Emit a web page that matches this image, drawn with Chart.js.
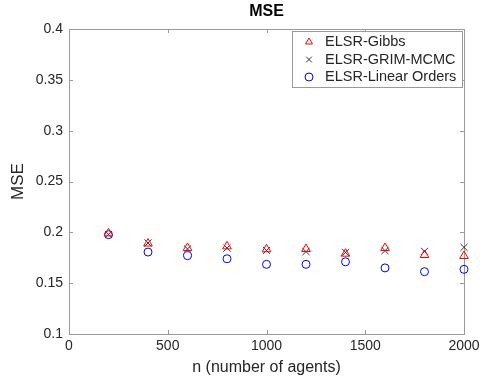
<!DOCTYPE html>
<html>
<head>
<meta charset="utf-8">
<script src="https://cdn.jsdelivr.net/npm/chart.js@4"></script>
<style>
  html, body { margin: 0; padding: 0; background: #fff; }
  #wrap { width: 481px; height: 377px; }
</style>
</head>
<body>
<div id="wrap"><canvas id="mseChart" width="481" height="377"></canvas></div>
<script>
// ================= DATA =================
const agents = [200, 400, 600, 800, 1000, 1200, 1400, 1600, 1800, 2000];
const gibbs = [0.199, 0.189, 0.1846, 0.1862, 0.1833, 0.1836, 0.179, 0.1846, 0.1777, 0.1767];
const grim = [0.198, 0.1895, 0.1836, 0.1845, 0.1822, 0.181, 0.1803, 0.182, 0.1813, 0.1852];
const linearOrders = [0.1977, 0.1806, 0.177, 0.174, 0.1685, 0.1685, 0.171, 0.165, 0.1613, 0.1636];
const xTicks = [0, 500, 1000, 1500, 2000];
const yTicks = [0.1, 0.15, 0.2, 0.25, 0.3, 0.35, 0.4];

const FONT = "'Liberation Sans', Arial, Helvetica, sans-serif";
const AXIS_COLOR = '#9a9a9a';
const TEXT_COLOR = '#262626';

function toPoints(ys) {
  return agents.map((n, i) => ({ x: n, y: ys[i] }));
}

const series = [
  { label: 'ELSR-Gibbs', data: gibbs, color: '#ff0000', style: 'triangle', r: 5 },
  { label: 'ELSR-GRIM-MCMC', data: grim, color: '#333333', style: 'crossRot', r: 5 },
  { label: 'ELSR-Linear Orders', data: linearOrders, color: '#0000ff', style: 'circle', r: 4 }
];

// box round the axes + inward ticks, like matlab
const axesBox = {
  id: 'axesBox',
  beforeDatasetsDraw(chart) {
    const { ctx, chartArea: a, scales } = chart;
    ctx.save();
    ctx.strokeStyle = AXIS_COLOR;
    ctx.lineWidth = 1;
    ctx.strokeRect(a.left + 0.5, a.top + 0.5, a.right - a.left, a.bottom - a.top);
    ctx.beginPath();
    const len = 4;
    xTicks.forEach(v => {
      const px = Math.round(scales.x.getPixelForValue(v)) + 0.5;
      ctx.moveTo(px, a.bottom); ctx.lineTo(px, a.bottom - len);
      ctx.moveTo(px, a.top); ctx.lineTo(px, a.top + len);
    });
    yTicks.forEach(v => {
      const py = Math.round(scales.y.getPixelForValue(v)) + 0.5;
      ctx.moveTo(a.left, py); ctx.lineTo(a.left + len, py);
      ctx.moveTo(a.right, py); ctx.lineTo(a.right - len, py);
    });
    ctx.stroke();
    // title centred over the axes, not the whole canvas
    ctx.fillStyle = '#000';
    ctx.font = 'bold 16px ' + FONT;
    ctx.textAlign = 'center';
    ctx.textBaseline = 'middle';
    ctx.fillText('MSE', (a.left + a.right) / 2, 12);
    ctx.restore();
  }
};

// legend drawn inside the plot, top right
const insideLegend = {
  id: 'insideLegend',
  afterDraw(chart) {
    const { ctx } = chart;
    const boxL = 292, boxT = 31, boxW = 170, boxH = 56;
    ctx.save();
    ctx.fillStyle = '#fff';
    ctx.fillRect(boxL, boxT, boxW, boxH);
    ctx.strokeStyle = AXIS_COLOR;
    ctx.lineWidth = 1;
    ctx.strokeRect(boxL + 0.5, boxT + 0.5, boxW, boxH);
    ctx.font = '14.5px ' + FONT;
    ctx.textBaseline = 'middle';
    const rows = [42, 59.5, 77];
    series.forEach((s, i) => {
      ctx.strokeStyle = s.color;
      ctx.fillStyle = 'rgba(0,0,0,0)';
      ctx.lineWidth = 1;
      Chart.helpers.drawPoint(ctx, { pointStyle: s.style, radius: 4, borderWidth: 1 }, 309, rows[i]);
      ctx.fillStyle = TEXT_COLOR;
      ctx.fillText(s.label, 325, rows[i]);
    });
    ctx.restore();
  }
};

new Chart(document.getElementById('mseChart'), {
  type: 'scatter',
  data: {
    datasets: series.map(s => ({
      label: s.label,
      data: toPoints(s.data),
      pointStyle: s.style,
      pointRadius: s.r,
      pointBorderColor: s.color,
      pointBackgroundColor: 'rgba(0,0,0,0)',
      pointBorderWidth: 1,
      clip: false
    }))
  },
  options: {
    responsive: false,
    animation: false,
    layout: { padding: { left: 0, right: 17, top: 29, bottom: 0 } },
    plugins: {
      legend: { display: false },
      tooltip: { enabled: false },
      title: { display: false }
    },
    scales: {
      x: {
        type: 'linear',
        min: 0,
        max: 2000,
        afterBuildTicks(scale) { scale.ticks = xTicks.map(v => ({ value: v })); },
        afterFit(scale) {
          scale.height = 43;
          scale.paddingLeft = 0;
          scale.paddingRight = 0;
        },
        grid: { display: false, drawTicks: false },
        border: { display: false },
        ticks: {
          color: TEXT_COLOR,
          padding: 4,
          font: { family: FONT, size: 14 },
          callback: v => String(v)
        },
        title: {
          display: true,
          text: 'n (number of agents)',
          color: TEXT_COLOR,
          font: { family: FONT, size: 16 },
          padding: { top: 0, bottom: 0 }
        }
      },
      y: {
        type: 'linear',
        min: 0.1,
        max: 0.4,
        afterBuildTicks(scale) { scale.ticks = yTicks.map(v => ({ value: v })); },
        afterFit(scale) {
          scale.width = 69;
          scale.paddingTop = 0;
          scale.paddingBottom = 0;
        },
        grid: { display: false, drawTicks: false },
        border: { display: false },
        ticks: {
          color: TEXT_COLOR,
          padding: 6,
          font: { family: FONT, size: 14 },
          callback: v => String(Math.round(v * 100) / 100)
        },
        title: {
          display: true,
          text: 'MSE',
          color: TEXT_COLOR,
          font: { family: FONT, size: 17 },
          padding: { top: 8, bottom: 0 }
        }
      }
    }
  },
  plugins: [axesBox, insideLegend]
});
</script>
</body>
</html>
